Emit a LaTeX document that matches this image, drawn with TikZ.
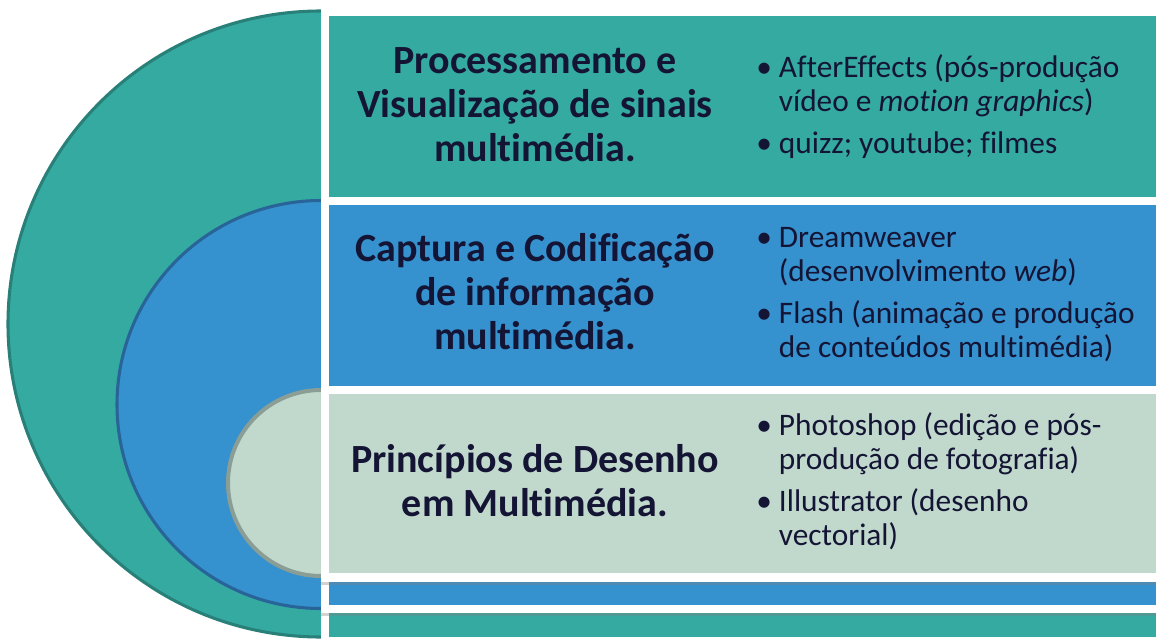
\documentclass[tikz,border=0pt]{standalone}
\usepackage{fontspec}
\setmainfont{Carlito}[Ligatures=NoCommon,Contextuals=NoAlternate]
\usetikzlibrary{shadows}
\definecolor{tealfill}{RGB}{52,170,161}
\definecolor{tealline}{RGB}{40,128,120}
\definecolor{bluefill}{RGB}{54,145,207}
\definecolor{blueline}{RGB}{40,100,152}
\definecolor{sagefill}{RGB}{193,217,204}
\definecolor{sageline}{RGB}{138,158,150}
\definecolor{inkblue}{RGB}{20,20,52}
\newcommand{\bl}{\makebox[17pt][l]{\textbullet}}
\begin{document}
\begin{tikzpicture}[x=0.75pt,y=-0.75pt,
	ring/.style={line width=2.3pt},
	card/.style={fill=white,drop shadow={shadow xshift=0pt,shadow yshift=-2pt,opacity=0.35}},
	title/.style={anchor=base,inner sep=0pt,text=inkblue,font=\fontsize{30}{33}\selectfont\bfseries},
	tools/.style={anchor=base west,inner sep=0pt,text=inkblue,font=\fontsize{23.5}{25.5}\selectfont}]
		\useasboundingbox (0,0) rectangle (1156,639);
		% nested half discs
		\begin{scope}
		\clip (-5,0) rectangle (321,639);
		\draw[ring,draw=tealline,fill=tealfill] (321,324) circle[radius=313];
		\draw[ring,draw=blueline,fill=bluefill] (321,404.5) circle[radius=204];
		\draw[ring,line width=3pt,draw=sageline,fill=sagefill] (321,483) circle[radius=93];
		\end{scope}
		% stacked cards
		\fill[card] (321,8) rectangle (1170,645);
		\fill[tealfill] (329,16) rectangle (1170,637);
		\fill[card] (321,197) rectangle (1170,613);
		\fill[bluefill] (329,205) rectangle (1170,605);
		\fill[card] (321,386) rectangle (1170,582);
		\fill[sagefill] (329,394) rectangle (1170,573);
		% titles
		\node[title] (proc) at (535,73) {\begin{tabular}[t]{@{}c@{}}Processamento e\\Visualização de sinais\\multimédia.\end{tabular}};
		\node[title] (capt) at (535,261) {\begin{tabular}[t]{@{}c@{}}Captura e Codificação\\de informação\\multimédia.\end{tabular}};
		\node[title] (princ) at (535,472) {\begin{tabular}[t]{@{}c@{}}Princípios de Desenho\\em Multimédia.\end{tabular}};
		% tools
		\node[tools] (listproc) at (756,77) {\begin{tabular}[t]{@{}l@{}}\bl AfterEffects (pós-produção\\\hspace{17pt}vídeo e \textit{motion graphics})\\[6pt]\bl quizz; youtube; filmes\end{tabular}};
		\node[tools] (listcapt) at (756,247) {\begin{tabular}[t]{@{}l@{}}\bl Dreamweaver\\\hspace{17pt}(desenvolvimento \textit{web})\\[6pt]\bl Flash (animação e produção\\\hspace{17pt}de conteúdos multimédia)\end{tabular}};
		\node[tools] (listprinc) at (756,435) {\begin{tabular}[t]{@{}l@{}}\bl Photoshop (edição e pós-\\\hspace{17pt}produção de fotografia)\\[6pt]\bl Illustrator (desenho\\\hspace{17pt}vectorial)\end{tabular}};
\end{tikzpicture}
\end{document}
